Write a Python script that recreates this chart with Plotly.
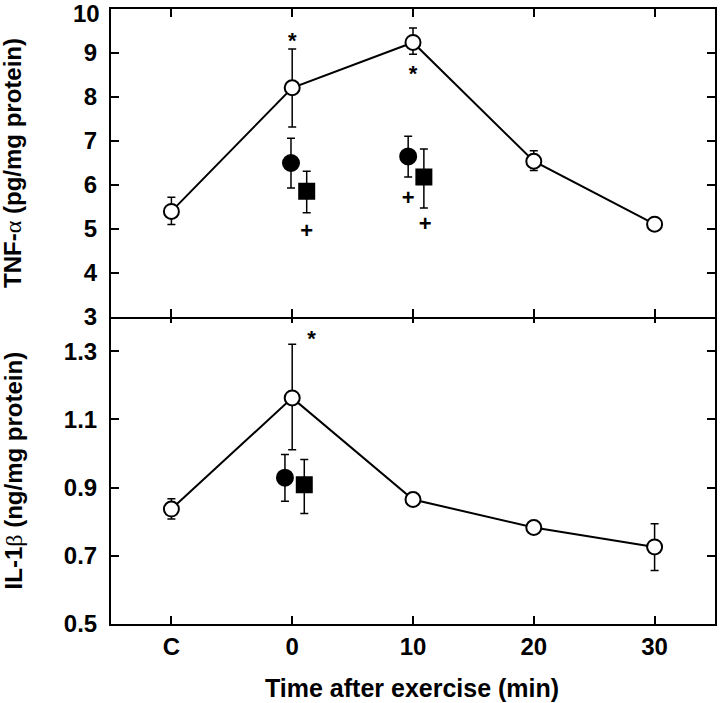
import plotly.graph_objects as go

# ---------------- data ----------------
tick_labels = ["C", "0", "10", "20", "30"]
time_x = [-10, 0, 10, 20, 30]

# TNF-alpha (pg/mg protein)
tnf_mean = [5.40, 8.21, 9.24, 6.54, 5.11]
tnf_plus = [0.32, 0.88, 0.33, 0.24, 0.05]
tnf_minus = [0.30, 0.89, 0.27, 0.21, 0.05]

tnf_circle_x = [-0.1, 9.6]
tnf_circle = [6.50, 6.65]
tnf_circle_plus = [0.56, 0.46]
tnf_circle_minus = [0.57, 0.47]

tnf_square_x = [1.2, 10.9]
tnf_square = [5.86, 6.18]
tnf_square_plus = [0.45, 0.64]
tnf_square_minus = [0.49, 0.70]

tnf_star_x = [0, 10]
tnf_star_y = [9.23, 8.49]
tnf_cross_x = [1.2, 9.6, 11.0]
tnf_cross_y = [4.93, 5.67, 5.09]

# IL-1beta (ng/mg protein)
il_mean = [0.837, 1.163, 0.865, 0.783, 0.726]
il_plus = [0.030, 0.157, 0.015, 0.010, 0.068]
il_minus = [0.029, 0.152, 0.015, 0.010, 0.069]

il_circle_x = [-0.6]
il_circle = [0.929]
il_circle_plus = [0.068]
il_circle_minus = [0.069]

il_square_x = [1.0]
il_square = [0.908]
il_square_plus = [0.074]
il_square_minus = [0.084]

il_star_x = [1.6]
il_star_y = [1.33]

tnf_ticks = [3, 4, 5, 6, 7, 8, 9, 10]
il_ticks = [0.5, 0.7, 0.9, 1.1, 1.3]

# ---------------- figure ----------------
FONT = "Liberation Sans, Arial, sans-serif"
fig = go.Figure()


def err(plus, minus):
    return dict(type="data", symmetric=False, array=plus, arrayminus=minus,
                color="black", thickness=1.5, width=4)


def add_group(xs, ys, plus, minus, xa, ya, symbol, fill, size, line=False):
    fig.add_trace(go.Scatter(
        x=xs, y=ys, xaxis=xa, yaxis=ya,
        mode="lines+markers" if line else "markers",
        line=dict(color="black", width=2),
        marker=dict(symbol=symbol, size=size, color=fill,
                    line=dict(color="black", width=2)),
        error_y=err(plus, minus), showlegend=False, cliponaxis=False))


def add_text(xs, ys, sym, xa, ya):
    fig.add_trace(go.Scatter(x=xs, y=ys, xaxis=xa, yaxis=ya, mode="text",
                             text=[sym] * len(xs),
                             textfont=dict(family=FONT, size=22, color="black", weight="bold"),
                             showlegend=False, cliponaxis=False))


# top panel (x2, y2)
add_group(time_x, tnf_mean, tnf_plus, tnf_minus, "x2", "y2", "circle", "white", 15, True)
add_group(tnf_circle_x, tnf_circle, tnf_circle_plus, tnf_circle_minus, "x2", "y2", "circle", "black", 16)
add_group(tnf_square_x, tnf_square, tnf_square_plus, tnf_square_minus, "x2", "y2", "square", "black", 15)
add_text(tnf_star_x, tnf_star_y, "*", "x2", "y2")
add_text(tnf_cross_x, tnf_cross_y, "+", "x2", "y2")

# bottom panel (x, y)
add_group(time_x, il_mean, il_plus, il_minus, "x", "y", "circle", "white", 15, True)
add_group(il_circle_x, il_circle, il_circle_plus, il_circle_minus, "x", "y", "circle", "black", 16)
add_group(il_square_x, il_square, il_square_plus, il_square_minus, "x", "y", "square", "black", 15)
add_text(il_star_x, il_star_y, "*", "x", "y")

TICKFONT = dict(family=FONT, size=24, color="black", weight="bold")
axis_common = dict(showline=True, linecolor="black", linewidth=2, ticks="inside",
                   ticklen=8, tickwidth=1.5, tickcolor="black", mirror="ticks",
                   showgrid=False, zeroline=False, automargin=False,
                   tickfont=TICKFONT)

split = 0.5008
px = 1 / 615

# the top-most TNF label is drawn as an annotation nudged down so it stays inside the page
top_tick = tnf_ticks[-1]
tnf_ticktext = [str(v) for v in tnf_ticks[:-1]] + [""]

fig.update_layout(
    width=720, height=703,
    margin=dict(l=111, r=5, t=9, b=79, autoexpand=False),
    paper_bgcolor="white", plot_bgcolor="white",
    xaxis=dict(axis_common, range=[-15, 35], tickvals=time_x, ticktext=tick_labels,
               anchor="y", domain=[0, 1], ticklabelstandoff=0),
    xaxis2=dict(axis_common, range=[-15, 35], tickvals=time_x, showticklabels=False,
                anchor="y2", matches="x"),
    yaxis=dict(axis_common, range=[0.5, 1.406], tickvals=il_ticks,
               ticktext=[f"{v:.1f}" for v in il_ticks], domain=[0, split + px],
               anchor="x", ticklabelstandoff=7),
    yaxis2=dict(axis_common, range=[3, 10.0001], tickvals=tnf_ticks, ticktext=tnf_ticktext,
                domain=[split - px, 1], anchor="x2", ticklabelstandoff=7),
    annotations=[
        dict(text=str(top_tick), xref="paper", yref="y2", x=0, y=top_tick,
             xshift=-9, yshift=-4, xanchor="right", yanchor="middle",
             showarrow=False, font=TICKFONT),
        dict(text="TNF-<span style=\"font-family:'Liberation Serif';font-weight:normal\">α</span> (pg/mg protein)",
             xref="paper", yref="paper", x=-0.162, y=0.75, textangle=-90,
             showarrow=False, xanchor="center", yanchor="middle",
             font=dict(family=FONT, size=24, color="black", weight="bold")),
        dict(text="IL-1<span style=\"font-family:'Liberation Serif';font-weight:normal\">β</span> (ng/mg protein)",
             xref="paper", yref="paper", x=-0.162, y=0.25, textangle=-90,
             showarrow=False, xanchor="center", yanchor="middle",
             font=dict(family=FONT, size=24, color="black", weight="bold")),
        dict(text="Time after exercise (min)", xref="paper", yref="paper",
             x=(412 - 111) / 604, y=-0.104, showarrow=False,
             xanchor="center", yanchor="middle",
             font=dict(family=FONT, size=25, color="black", weight="bold")),
    ],
)

fig.write_html("out.html", config={"displayModeBar": False},
               post_script="document.body.style.margin='0px';document.body.style.padding='0px';")
